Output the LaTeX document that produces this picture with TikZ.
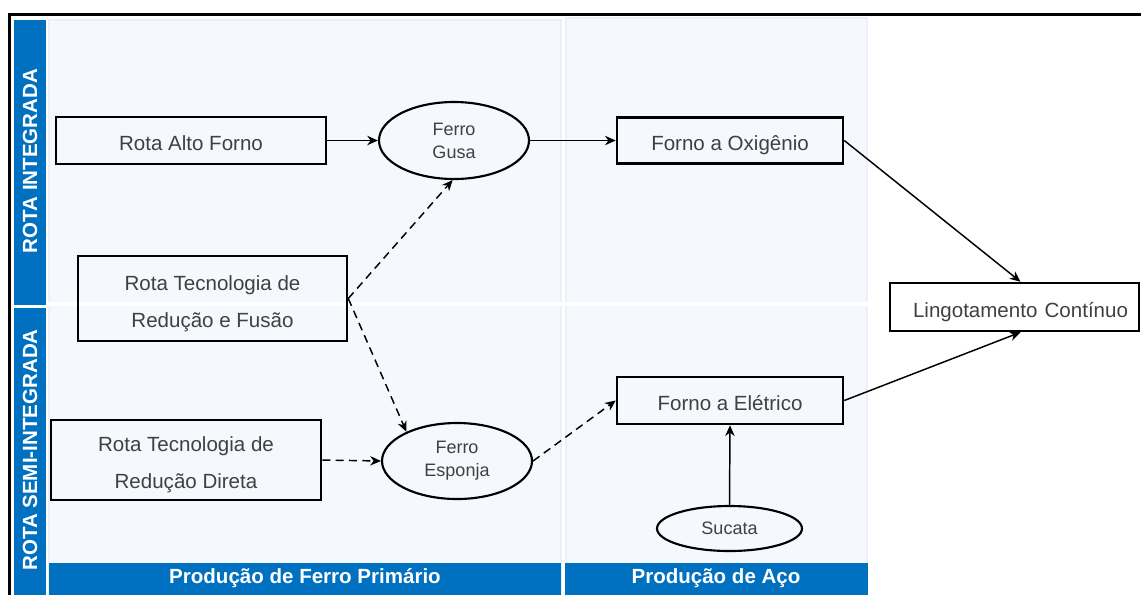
\documentclass[tikz,border=0pt]{standalone}
\usepackage{fontspec}
\setmainfont{Liberation Sans}
\usetikzlibrary{arrows.meta,shapes.geometric}
\definecolor{bluebar}{RGB}{0,112,192}
\definecolor{panelfill}{RGB}{245,248,253}
\definecolor{paneledge}{RGB}{236,240,247}
\definecolor{txt}{RGB}{64,64,64}
\newcommand\pxu{0.75pt}
\begin{document}
\begin{tikzpicture}[x=0.75pt,y=-0.75pt,
  box/.style={draw=black, line width=1.9pt, inner sep=0pt, text=txt, align=center,
    font=\fontsize{15.4}{17}\selectfont, text height=15pt, text depth=0pt},
  twobox/.style={draw=black, line width=1.9pt, inner sep=0pt, text=txt, align=center,
    font=\fontsize{15.4}{27.75}\selectfont},
  oval/.style={ellipse, draw=black, line width=1.6pt, inner sep=0pt, text=txt, align=center,
    font=\fontsize{13.5}{17.25}\selectfont},
  arr/.style={line width=1.1pt, -{Stealth[length=8pt,width=7pt,inset=2.5pt]}},
  darr/.style={arr, dash pattern=on 6pt off 4pt},
  bartext/.style={text=white, font=\bfseries\fontsize{15.4}{18}\selectfont, inner sep=0pt},
  panel/.style={fill=panelfill, draw=paneledge, line width=1.5pt}
]
\useasboundingbox (0,0) rectangle (1141,594);
\fill[white] (0,0) rectangle (1141,594);
% panels
\draw[panel] (49,20) rectangle (561,600);
\draw[panel] (566,18) rectangle (867,600);
\fill[white] (48,302) rectangle (868,305.5);
% left blue bars
\fill[bluebar] (14,20) rectangle (46,305);
\fill[bluebar] (14,308) rectangle (46,600);
\node[bartext, rotate=90] (rint) at (30,161) {ROTA INTEGRADA};
\node[bartext, rotate=90] (rsemi) at (30,450) {ROTA SEMI-INTEGRADA};
% bottom blue bars
\fill[bluebar] (49,563) rectangle (561,600);
\fill[bluebar] (565,563) rectangle (868,600);
\node[bartext] (pfp) at (305,578) {Produção de Ferro Primário};
\node[bartext] (pac) at (716,578) {Produção de Aço};
% outer frame
\draw[line width=1.6pt] (9.5,620) -- (9.5,14.5) -- (1160,14.5);
% nodes
\node[box, minimum width=270*\pxu, minimum height=47*\pxu] (alto) at (191,140.5) {Rota Alto Forno};
\node[oval, minimum width=150*\pxu, minimum height=77*\pxu] (gusa) at (454,140.5) {Ferro\\Gusa};
\node[box, minimum width=226*\pxu, minimum height=46*\pxu] (oxi) at (730,140.5) {Forno a Oxigênio};
\node[twobox, minimum width=269*\pxu, minimum height=85*\pxu] (fusao) at (212.5,298.5) {\rule{0pt}{18.5pt}Rota Tecnologia de\\Redução e Fusão};
\node[box, minimum width=249*\pxu, minimum height=48*\pxu] (ling) at (1014.5,307) {\hspace*{9pt}Lingotamento\hspace{0.35em}Contínuo};
\node[box, minimum width=226*\pxu, minimum height=47*\pxu] (elet) at (730,400.5) {Forno a Elétrico};
\node[twobox, minimum width=270*\pxu, minimum height=80*\pxu] (direta) at (186,460) {\rule{0pt}{18.5pt}Rota Tecnologia de\\Redução Direta};
\node[oval, minimum width=150*\pxu, minimum height=76*\pxu] (esponja) at (457,461) {Ferro\\Esponja};
\node[oval, minimum width=145*\pxu, minimum height=45*\pxu] (sucata) at (729.5,528.5) {Sucata};
% connectors
\draw[arr] (alto.east) -- (gusa.west);
\draw[arr] (gusa.east) -- (oxi.west);
\draw[arr] (oxi.east) -- ([xshift=4.5pt]ling.north);
\draw[arr] (elet.east) -- ([xshift=4.5pt]ling.south);
\draw[arr] (sucata.north) -- (elet.south);
\draw[darr] (fusao.east) -- (gusa.268);
\draw[darr] (fusao.east) -- (esponja.150);
\draw[darr] (direta.east) -- (esponja.west);
\draw[darr] (esponja.east) -- (elet.west);
\end{tikzpicture}
\end{document}
